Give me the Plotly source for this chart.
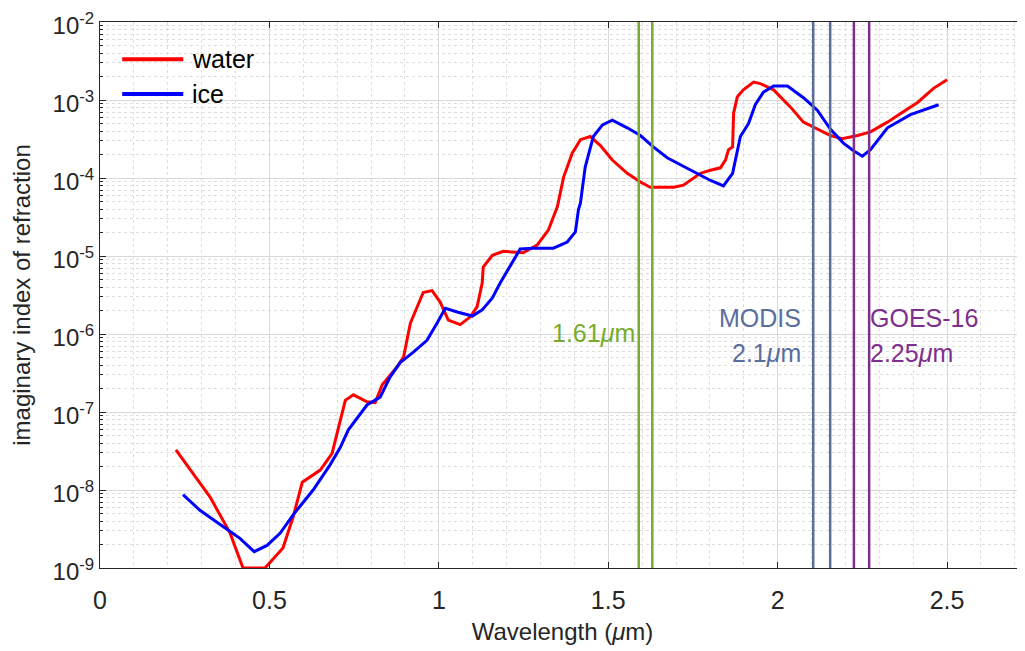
import plotly.graph_objects as go

# ---- data ----
water_wl = [0.224, 0.325, 0.384, 0.422, 0.487, 0.54, 0.57, 0.597, 0.65, 0.685, 0.70, 0.724, 0.748,
            0.788, 0.812, 0.833, 0.877, 0.896, 0.916, 0.954, 0.980, 1.004, 1.028, 1.063, 1.093,
            1.113, 1.128, 1.131, 1.158, 1.19, 1.249, 1.29, 1.323, 1.35, 1.368, 1.394, 1.418,
            1.447, 1.477, 1.512, 1.556, 1.595, 1.624, 1.693, 1.722, 1.772, 1.802, 1.831, 1.846,
            1.855, 1.867, 1.87, 1.881, 1.899, 1.929, 1.949, 1.988, 2.038, 2.076, 2.117, 2.156,
            2.19, 2.236, 2.274, 2.324, 2.372, 2.413, 2.46, 2.50]
water_k = [3.26e-8, 8.1e-9, 2.8e-9, 1.0e-9, 1.0e-9, 1.8e-9, 4.5e-9, 1.26e-8, 1.8e-8, 2.95e-8, 5.4e-8,
           1.41e-7, 1.66e-7, 1.35e-7, 1.32e-7, 2.24e-7, 3.8e-7, 5.1e-7, 1.38e-6, 3.4e-6, 3.6e-6,
           2.57e-6, 1.51e-6, 1.32e-6, 1.66e-6, 2.24e-6, 4.5e-6, 7.2e-6, 1.02e-5, 1.15e-5, 1.1e-5,
           1.38e-5, 2.14e-5, 4.3e-5, 1.02e-4, 2.1e-4, 3.1e-4, 3.4e-4, 2.6e-4, 1.7e-4, 1.15e-4,
           8.9e-5, 7.6e-5, 7.6e-5, 8.1e-5, 1.15e-4, 1.26e-4, 1.35e-4, 1.7e-4, 2.3e-4, 2.5e-4,
           6.8e-4, 1.1e-3, 1.35e-3, 1.7e-3, 1.62e-3, 1.35e-3, 8.1e-4, 5.2e-4, 4.2e-4, 3.5e-4,
           3.2e-4, 3.5e-4, 3.9e-4, 5.2e-4, 7.1e-4, 9.3e-4, 1.41e-3, 1.82e-3]

ice_wl = [0.245, 0.295, 0.363, 0.413, 0.455, 0.493, 0.532, 0.57, 0.629, 0.679, 0.709, 0.733, 0.788,
          0.827, 0.856, 0.886, 0.924, 0.965, 0.995, 1.019, 1.057, 1.099, 1.128, 1.158, 1.181,
          1.211, 1.24, 1.279, 1.338, 1.379, 1.403, 1.412, 1.418, 1.432, 1.456, 1.483, 1.512,
          1.556, 1.595, 1.633, 1.674, 1.713, 1.763, 1.802, 1.84, 1.867, 1.89, 1.914, 1.934,
          1.958, 1.988, 2.029, 2.076, 2.117, 2.156, 2.194, 2.224, 2.25, 2.274, 2.324, 2.392, 2.475]
ice_k = [8.7e-9, 5.5e-9, 3.4e-9, 2.4e-9, 1.62e-9, 1.95e-9, 2.8e-9, 4.8e-9, 1.0e-8, 2.1e-8, 3.5e-8,
         5.9e-8, 1.23e-7, 1.55e-7, 2.8e-7, 4.3e-7, 5.8e-7, 8.3e-7, 1.38e-6, 2.14e-6, 1.9e-6,
         1.7e-6, 2.04e-6, 2.9e-6, 4.5e-6, 7.6e-6, 1.23e-5, 1.26e-5, 1.26e-5, 1.51e-5, 2.04e-5,
         3.9e-5, 4.8e-5, 1.38e-4, 3.4e-4, 4.8e-4, 5.5e-4, 4.4e-4, 3.5e-4, 2.5e-4, 1.82e-4,
         1.48e-4, 1.15e-4, 9.3e-5, 7.9e-5, 1.15e-4, 3.4e-4, 5.0e-4, 8.7e-4, 1.26e-3, 1.51e-3,
         1.51e-3, 1.07e-3, 7.4e-4, 4.2e-4, 2.8e-4, 2.24e-4, 1.9e-4, 2.3e-4, 4.4e-4, 6.5e-4, 8.7e-4]

band_161 = [1.59, 1.63]
band_modis = [2.105, 2.155]
band_goes = [2.225, 2.27]

series_names = ["water", "ice"]
series_colors = ["#FF0000", "#0000FF"]

y_tickvals = [1e-9, 1e-8, 1e-7, 1e-6, 1e-5, 1e-4, 1e-3, 1e-2]
y_ticktext = ["10<sup>-9</sup>", "10<sup>-8</sup>", "10<sup>-7</sup>", "10<sup>-6</sup>",
              "10<sup>-5</sup>", "10<sup>-4</sup>", "10<sup>-3</sup>", "10<sup>-2</sup>"]
x_tickvals = [0, 0.5, 1, 1.5, 2, 2.5]
x_ticktext = ["0", "0.5", "1", "1.5", "2", "2.5"]

GREEN = "#77AC30"
SLATE = "#5A6E9E"
PURPLE = "#7E2F8E"
AXC = "#262626"
FONT = "Liberation Sans, Arial, sans-serif"

fig = go.Figure()
fig.add_trace(go.Scatter(x=water_wl, y=water_k, mode="lines", name=series_names[0],
                         line=dict(color=series_colors[0], width=3), showlegend=False))
fig.add_trace(go.Scatter(x=ice_wl, y=ice_k, mode="lines", name=series_names[1],
                         line=dict(color=series_colors[1], width=3), showlegend=False))

for v in band_161:
    fig.add_vline(x=v, line=dict(color=GREEN, width=2.5))
for v in band_modis:
    fig.add_vline(x=v, line=dict(color=SLATE, width=2.5))
for v in band_goes:
    fig.add_vline(x=v, line=dict(color=PURPLE, width=2.5))

# legend (drawn in paper coordinates, MATLAB style: no box)
leg_y = [0.932, 0.868]
for name, col, ly in zip(series_names, series_colors, leg_y):
    fig.add_shape(type="line", xref="paper", yref="paper", x0=0.024, x1=0.090, y0=ly, y1=ly,
                  line=dict(color=col, width=4))
    fig.add_annotation(xref="paper", yref="paper", x=0.097, y=ly, text=name, showarrow=False,
                       xanchor="left", yanchor="middle",
                       font=dict(family=FONT, size=25, color="#000000"))

ann_font = dict(family=FONT, size=25)
fig.add_annotation(x=1.584, y=0.430, xref="x", yref="paper", text="1.61<i>μ</i>m",
                   showarrow=False, xanchor="right", yanchor="middle",
                   font=dict(color=GREEN, **ann_font))
fig.add_annotation(x=2.075, y=0.458, xref="x", yref="paper", text="MODIS",
                   showarrow=False, xanchor="right", yanchor="middle",
                   font=dict(color=SLATE, **ann_font))
fig.add_annotation(x=2.075, y=0.394, xref="x", yref="paper", text="2.1<i>μ</i>m",
                   showarrow=False, xanchor="right", yanchor="middle",
                   font=dict(color=SLATE, **ann_font))
fig.add_annotation(x=2.266, y=0.458, xref="x", yref="paper", text="GOES-16",
                   showarrow=False, xanchor="left", yanchor="middle",
                   font=dict(color=PURPLE, **ann_font))
fig.add_annotation(x=2.266, y=0.394, xref="x", yref="paper", text="2.25<i>μ</i>m",
                   showarrow=False, xanchor="left", yanchor="middle",
                   font=dict(color=PURPLE, **ann_font))

fig.update_layout(
    width=1017, height=643,
    margin=dict(l=92, r=0, t=14, b=83, autoexpand=False),
    paper_bgcolor="white", plot_bgcolor="white",
    font=dict(family=FONT, color=AXC),
    showlegend=False,
    xaxis=dict(
        range=[0, 2.73], tickvals=x_tickvals, ticktext=x_ticktext,
        ticks="inside", ticklen=6, tickcolor=AXC, automargin=False,
        ticklabelstandoff=10, ticklabeloverflow="allow",
        showline=True, linecolor=AXC, linewidth=1, mirror="ticks",
        showgrid=True, gridcolor="#d9d9d9", gridwidth=1,
        zeroline=False,
        tickfont=dict(family=FONT, size=25, color=AXC),
        title=dict(text="Wavelength (<i>μ</i>m)", font=dict(family=FONT, size=24, color=AXC), standoff=10),
        minor=dict(dtick=0.1, showgrid=True, gridcolor="#dedede", griddash="dot", ticks=""),
    ),
    yaxis=dict(
        type="log", range=[-9, -2], tickvals=y_tickvals, ticktext=y_ticktext,
        ticks="inside", ticklen=6, tickcolor=AXC, automargin=False,
        ticklabeloverflow="allow", ticklabelshift=4,
        showline=True, linecolor=AXC, linewidth=1, mirror="ticks",
        showgrid=True, gridcolor="#d9d9d9", gridwidth=1,
        zeroline=False,
        tickfont=dict(family=FONT, size=24, color=AXC),
        title=dict(text="imaginary index of refraction", font=dict(family=FONT, size=24, color=AXC), standoff=24),
        minor=dict(dtick="D1", showgrid=True, gridcolor="#dedede", griddash="dot",
                   ticks="inside", ticklen=3, tickcolor=AXC),
    ),
)

fig.write_html("out.html")
